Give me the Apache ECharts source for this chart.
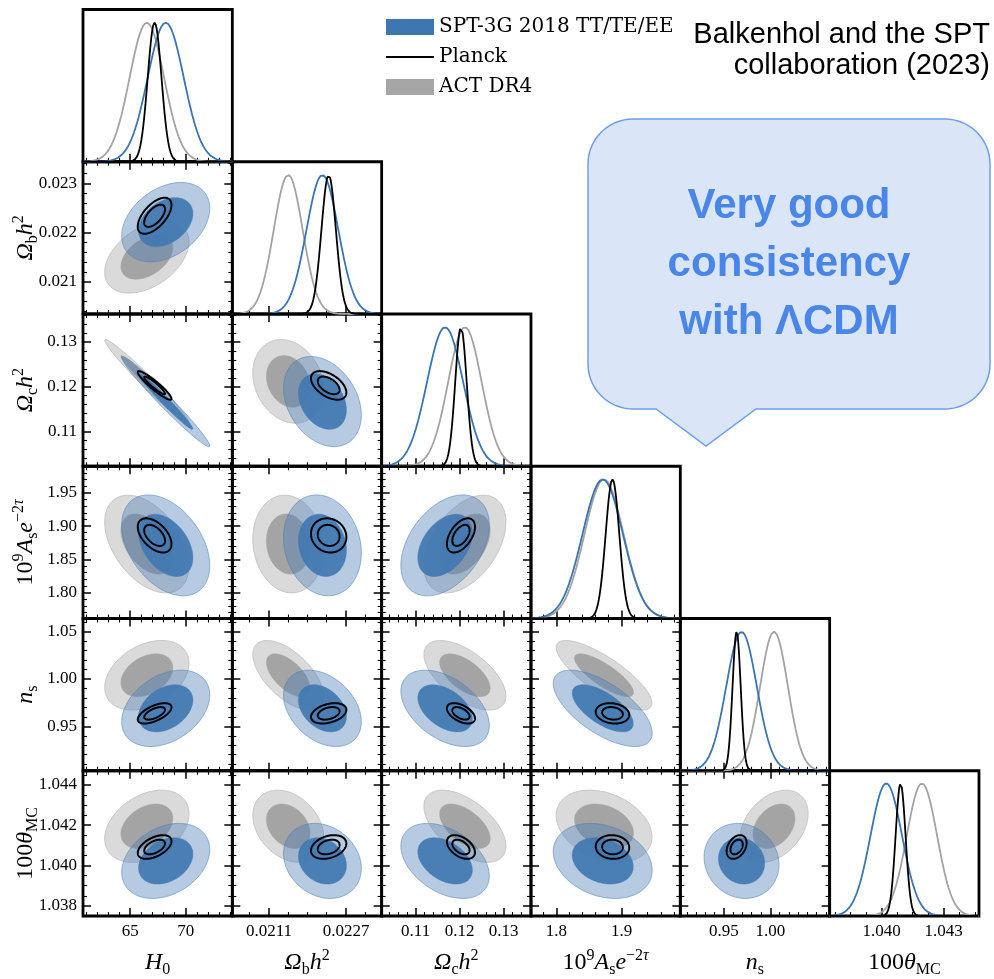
<!DOCTYPE html>
<html><head><meta charset="utf-8">
<script src="https://cdn.jsdelivr.net/npm/echarts@6/dist/echarts.min.js"></script>
<style>html,body{margin:0;padding:0;background:#fff}#c{width:994px;height:979px}</style>
</head><body><div id="c"></div>
<script>
// ---------------- data ----------------
const params = ['H0', 'ombh2', 'omch2', 'As', 'ns', 'theta'];
const paramTitles = ['{i|H}{sb|0}', '{i|Ω}{sb|b}{i|h}{sp|2}', '{i|Ω}{sb|c}{i|h}{sp|2}',
  '{r|10}{sp|9}{i|A}{sb|s}{i|e}{sp|−2}{spi|τ}', '{i|n}{sb|s}', '{r|100}{i|θ}{sb|MC}'];
const paramMin = [60.75, 0.02034, 0.1023, 1.761, 0.903, 1.0375];
const paramMax = [74.2, 0.02344, 0.1362, 1.990, 1.064, 1.0447];
const xTickValues = [[65, 70], [0.0211, 0.0227], [0.11, 0.12, 0.13], [1.8, 1.9], [0.95, 1.00], [1.040, 1.043]];
const xTickLabels = [['65', '70'], ['0.0211', '0.0227'], ['0.11', '0.12', '0.13'], ['1.8', '1.9'], ['0.95', '1.00'], ['1.040', '1.043']];
const xMinorStep = [1, 0.0004, 0.002, 0.02, 0.01, 0.00075];
const yTickValues = [[], [0.021, 0.022, 0.023], [0.11, 0.12, 0.13], [1.80, 1.85, 1.90, 1.95], [0.95, 1.00, 1.05], [1.038, 1.040, 1.042, 1.044]];
const yTickLabels = [[], ['0.021', '0.022', '0.023'], ['0.11', '0.12', '0.13'], ['1.80', '1.85', '1.90', '1.95'], ['0.95', '1.00', '1.05'], ['1.038', '1.040', '1.042', '1.044']];
const yMinorStep = [1, 0.0002, 0.002, 0.01, 0.01, 0.0005];

const seriesNames = ['SPT-3G 2018 TT/TE/EE', 'Planck', 'ACT DR4'];
const sptMean = [68.2, 0.02221, 0.1167, 1.871, 0.9690, 1.04023];
const sptSigma = [1.62, 0.00033, 0.0041, 0.031, 0.0165, 0.00076];
const planckMean = [67.2, 0.02234, 0.1203, 1.886, 0.9637, 1.04092];
const planckSigma = [0.62, 0.00015, 0.0013, 0.0105, 0.0044, 0.00024];
const actMean = [66.5, 0.02150, 0.1212, 1.873, 1.004, 1.04195];
const actSigma = [1.55, 0.00030, 0.0038, 0.030, 0.015, 0.00073];
// pair order: (0,1)(0,2)(0,3)(0,4)(0,5)(1,2)(1,3)(1,4)(1,5)(2,3)(2,4)(2,5)(3,4)(3,5)(4,5)
const sptCorr = [0.35, -0.98, -0.4, 0.35, 0.3, -0.3, -0.15, -0.35, -0.2, 0.4, -0.45, -0.4, -0.65, -0.25, -0.1];
const planckCorr = [0.6, -0.93, -0.5, 0.6, 0.5, -0.5, -0.1, 0.35, 0.3, 0.5, -0.5, -0.45, -0.15, -0.05, 0.35];
const actCorr = [0.42, -0.98, -0.45, 0.35, 0.35, -0.2, -0.1, -0.6, -0.3, 0.45, -0.6, -0.55, -0.8, -0.3, 0.35];

const creditLines = ['Balkenhol and the SPT', 'collaboration (2023)'];
const calloutText = 'Very good\nconsistency\nwith ΛCDM';

// ---------------- layout & style ----------------
const LEFT = 83, COLW = 149.33, TOP = 9.5, ROWH = 152.25;
const N = params.length;
const SERIF = 'Liberation Serif';
const rich = {
  i: { fontFamily: SERIF, fontStyle: 'italic', fontSize: 24, lineHeight: 30, verticalAlign: 'middle', color: '#000' },
  r: { fontFamily: SERIF, fontSize: 24, lineHeight: 30, verticalAlign: 'middle', color: '#000' },
  sb: { fontFamily: SERIF, fontSize: 16, lineHeight: 15, verticalAlign: 'bottom', color: '#000' },
  sp: { fontFamily: SERIF, fontSize: 16, lineHeight: 15, verticalAlign: 'top', color: '#000' },
  spi: { fontFamily: SERIF, fontStyle: 'italic', fontSize: 16, lineHeight: 15, verticalAlign: 'top', color: '#000' }
};
const datasets = [
  { name: seriesNames[2], mean: actMean, sigma: actSigma, corr: actCorr, line: '#a3a3a3',
    outer: { fill: '#dadada', stroke: '#c6c6c6', lineWidth: 1 }, inner: { fill: '#a4a4a4', stroke: '#a4a4a4', lineWidth: 0.5 }, legendColor: '#a6a6a6' },
  { name: seriesNames[0], mean: sptMean, sigma: sptSigma, corr: sptCorr, line: '#3b74ae',
    outer: { fill: 'rgba(72,126,182,0.40)', stroke: 'rgba(72,126,182,0.55)', lineWidth: 1 }, inner: { fill: 'rgba(66,120,178,0.93)', stroke: 'rgba(66,120,178,0.93)', lineWidth: 0.5 }, legendColor: '#3d76b1' },
  { name: seriesNames[1], mean: planckMean, sigma: planckSigma, corr: planckCorr, line: '#000',
    outer: { fill: 'none', stroke: '#000', lineWidth: 2 }, inner: { fill: 'none', stroke: '#000', lineWidth: 2 } }
];
const pairs = [];
for (let i = 0; i < N; i++) for (let j = i + 1; j < N; j++) pairs.push([i, j]);
const pairIndex = (i, j) => pairs.findIndex(p => p[0] === i && p[1] === j);
const K68 = 2.279, K95 = 5.991;

function minorValues(major, step, min, max) {
  const out = [];
  const base = major.length ? major[0] : min;
  const k0 = Math.ceil((min - base) / step - 1e-9), k1 = Math.floor((max - base) / step + 1e-9);
  for (let k = k0; k <= k1; k++) {
    const v = +(base + k * step).toPrecision(12);
    if (major.some(m => Math.abs(m - v) < step * 1e-3)) continue;
    out.push(v);
  }
  return out;
}
function ellipse(mx, my, sx, sy, rho, k) {
  const r = Math.sqrt(k), q = Math.sqrt(1 - rho * rho), pts = [];
  for (let n = 0; n < 160; n++) {
    const t = 2 * Math.PI * n / 160, u = r * Math.cos(t), v = r * Math.sin(t);
    pts.push([mx + sx * u, my + sy * (rho * u + q * v)]);
  }
  return pts;
}
function axis(gi, pos, p, values, labels, major, showLabel, isY) {
  const title = showLabel ? paramTitles[p] : '';
  return {
    type: 'value', gridIndex: gi, position: pos, min: paramMin[p], max: paramMax[p],
    axisLine: { show: false }, splitLine: { show: false },
    axisTick: { show: true, inside: true, length: major ? 8 : 4, customValues: values,
      lineStyle: { color: '#000', width: major ? 1.5 : 1.1 } },
    axisLabel: { show: showLabel, customValues: values, margin: isY ? 6 : 7,
      fontFamily: SERIF, fontSize: 17, color: '#000',
      formatter: v => { let b = 0; values.forEach((m, k) => { if (Math.abs(m - v) < Math.abs(values[b] - v)) b = k; }); return labels[b]; } },
    name: title, nameLocation: 'middle', nameGap: isY ? 42 : 32, nameMoveOverlap: false,
    nameTextStyle: { rich: rich }
  };
}

const grids = [], xAxes = [], yAxes = [], series = [];
for (let r = 0; r < N; r++) {
  for (let c = 0; c <= r; c++) {
    const gi = grids.length;
    grids.push({ left: LEFT + c * COLW, top: TOP + r * ROWH, width: COLW, height: ROWH,
      show: true, borderColor: '#000', borderWidth: 2.8, backgroundColor: 'transparent' });
    const diag = r === c, bottom = r === N - 1;
    const xMin = minorValues(xTickValues[c], xMinorStep[c], paramMin[c], paramMax[c]);
    const xi = xAxes.length;
    xAxes.push(axis(gi, 'bottom', c, xTickValues[c], xTickLabels[c], true, bottom, false));
    xAxes.push(axis(gi, 'bottom', c, xMin, [], false, false, false));
    let yi;
    if (diag) {
      yi = yAxes.length;
      yAxes.push({ type: 'value', gridIndex: gi, min: 0, max: 1.095, show: false, splitLine: { show: false } });
      datasets.forEach(d => {
        const m = d.mean[c], s = d.sigma[c], pts = [];
        for (let n = 0; n <= 240; n++) {
          const x = paramMin[c] + (paramMax[c] - paramMin[c]) * n / 240;
          pts.push([x, Math.exp(-0.5 * ((x - m) / s) ** 2)]);
        }
        series.push({ type: 'line', name: d.name, xAxisIndex: xi, yAxisIndex: yi, data: pts,
          symbol: 'none', smooth: false, clip: true, z: 3,
          lineStyle: { color: d.line, width: 1.8 }, itemStyle: { color: d.legendColor || d.line } });
      });
    } else {
      xAxes.push(axis(gi, 'top', c, xTickValues[c], [], true, false, false));
      xAxes.push(axis(gi, 'top', c, xMin, [], false, false, false));
      const yMin = minorValues(yTickValues[r], yMinorStep[r], paramMin[r], paramMax[r]);
      yi = yAxes.length;
      yAxes.push(axis(gi, 'left', r, yTickValues[r], yTickLabels[r], true, c === 0, true));
      yAxes.push(axis(gi, 'left', r, yMin, [], false, false, true));
      yAxes.push(axis(gi, 'right', r, yTickValues[r], [], true, false, true));
      yAxes.push(axis(gi, 'right', r, yMin, [], false, false, true));
      const pk = pairIndex(c, r);
      datasets.forEach(d => {
        const rho = d.corr[pk];
        const polys = [
          { pts: ellipse(d.mean[c], d.mean[r], d.sigma[c], d.sigma[r], rho, K95), st: d.outer },
          { pts: ellipse(d.mean[c], d.mean[r], d.sigma[c], d.sigma[r], rho, K68), st: d.inner }
        ];
        series.push({ type: 'custom', name: d.name, xAxisIndex: xi, yAxisIndex: yi, clip: true, z: 2,
          itemStyle: { color: d.legendColor || d.line },
          data: [[d.mean[c], d.mean[r]], [d.mean[c], d.mean[r]]],
          renderItem: (prm, api) => {
            const P = polys[prm.dataIndex];
            return { type: 'polygon', shape: { points: P.pts.map(q => api.coord(q)) },
              style: { fill: P.st.fill, stroke: P.st.stroke, lineWidth: P.st.lineWidth } };
          } });
      });
    }
  }
}

// speech bubble outline (rounded rectangle with a tail)
function bubblePoints(x0, y0, x1, y1, R, tailL, tailR, tipX, tipY) {
  const pts = [];
  const arc = (cx, cy, a0, a1) => { for (let n = 0; n <= 16; n++) { const a = a0 + (a1 - a0) * n / 16; pts.push([cx + R * Math.cos(a), cy + R * Math.sin(a)]); } };
  arc(x0 + R, y0 + R, Math.PI, 1.5 * Math.PI);
  arc(x1 - R, y0 + R, 1.5 * Math.PI, 2 * Math.PI);
  arc(x1 - R, y1 - R, 0, 0.5 * Math.PI);
  pts.push([tailR, y1], [tipX, tipY], [tailL, y1]);
  arc(x0 + R, y1 - R, 0.5 * Math.PI, Math.PI);
  return pts;
}

const chart = echarts.init(document.getElementById('c'), null, { renderer: 'canvas' });
chart.setOption({
  animation: false,
  backgroundColor: '#fff',
  textStyle: { fontFamily: SERIF },
  grid: grids, xAxis: xAxes, yAxis: yAxes, series: series,
  legend: {
    left: 386, top: 16, padding: 0, orient: 'vertical', itemWidth: 48, itemHeight: 16, itemGap: 8,
    textStyle: { fontFamily: 'DejaVu Serif', fontSize: 20, lineHeight: 22, color: '#000' }, selectedMode: false,
    data: [
      { name: seriesNames[0], icon: 'rect', itemStyle: { color: '#3d76b1', borderWidth: 0 } },
      { name: seriesNames[1], icon: 'path://M0,0H40V1.6H0Z', itemStyle: { color: '#000', borderWidth: 0 } },
      { name: seriesNames[2], icon: 'rect', itemStyle: { color: '#a6a6a6', borderWidth: 0 } }
    ]
  },
  graphic: [
    { type: 'text', right: 4, top: 20, style: { text: creditLines[0], font: '29px "Liberation Sans"', fill: '#000' } },
    { type: 'text', right: 4, top: 51, style: { text: creditLines[1], font: '29px "Liberation Sans"', fill: '#000' } },
    { type: 'polygon', shape: { points: bubblePoints(588, 119, 990, 409, 45, 656, 756, 706, 446) },
      style: { fill: '#dae6f8', stroke: '#6d9eeb', lineWidth: 1.5 } },
    { type: 'text', x: 789, y: 264, style: { text: calloutText, font: 'bold 42px "Liberation Sans"', fill: '#4a86e8',
      align: 'center', verticalAlign: 'middle', lineHeight: 58 } }
  ]
});
</script></body></html>
